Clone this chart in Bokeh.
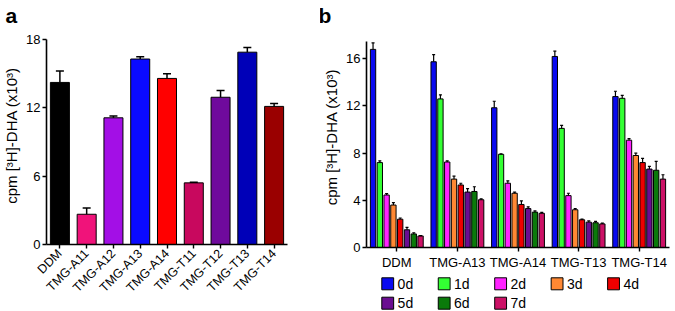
from bokeh.plotting import figure
from bokeh.models import FactorRange, Range1d, FixedTicker, ColumnDataSource
from bokeh.core.properties import value
from bokeh.transform import dodge
from bokeh.layouts import row, column
from bokeh.embed import file_html
from bokeh.resources import INLINE
import math

FONT = "Liberation Sans"
YLABEL = "cpm [³H]-DHA (x10³)"

# ---------------- panel a data ----------------
a_categories = ["DDM", "TMG-A11", "TMG-A12", "TMG-A13", "TMG-A14",
                "TMG-T11", "TMG-T12", "TMG-T13", "TMG-T14"]
a_values = [14.2, 2.65, 11.1, 16.25, 14.55, 5.4, 12.9, 16.85, 12.1]
a_errors = [1.0, 0.55, 0.15, 0.2, 0.4, 0.05, 0.6, 0.4, 0.25]
a_colors = ["#000000", "#f0137a", "#a30fe6", "#0a0aff", "#ff0000",
            "#c8085e", "#6f0a9c", "#0000b8", "#9a0000"]
a_yticks = [0, 6, 12, 18]

# ---------------- panel b data ----------------
b_groups = ["DDM", "TMG-A13", "TMG-A14", "TMG-T13", "TMG-T14"]
b_days = ["0d", "1d", "2d", "3d", "4d", "5d", "6d", "7d"]
b_0d = [16.8, 15.75, 11.85, 16.2, 12.8]
b_1d = [7.2, 12.6, 7.9, 10.1, 12.65]
b_2d = [4.45, 7.25, 5.45, 4.4, 9.1]
b_3d = [3.6, 5.8, 4.6, 3.2, 7.8]
b_4d = [2.4, 5.3, 3.65, 2.35, 7.2]
b_5d = [1.5, 4.7, 3.3, 2.15, 6.65]
b_6d = [1.15, 4.75, 3.0, 2.1, 6.55]
b_7d = [0.98, 4.05, 2.9, 2.0, 5.8]
b_0d_err = [0.55, 0.6, 0.55, 0.45, 0.45]
b_1d_err = [0.15, 0.35, 0.05, 0.25, 0.25]
b_2d_err = [0.12, 0.1, 0.2, 0.2, 0.14]
b_3d_err = [0.2, 0.25, 0.1, 0.1, 0.2]
b_4d_err = [0.1, 0.15, 0.3, 0.06, 0.35]
b_5d_err = [0.2, 0.3, 0.15, 0.1, 0.23]
b_6d_err = [0.1, 0.4, 0.1, 0.12, 0.75]
b_7d_err = [0.03, 0.08, 0.07, 0.06, 0.37]
b_colors = ["#0a0af0", "#33ff33", "#ff22ff", "#ff8833",
            "#ee0000", "#6a0d91", "#0a7a0a", "#cc1166"]
b_yticks = [0, 4, 8, 12, 16]

b_series = [b_0d, b_1d, b_2d, b_3d, b_4d, b_5d, b_6d, b_7d]
b_series_err = [b_0d_err, b_1d_err, b_2d_err, b_3d_err,
                b_4d_err, b_5d_err, b_6d_err, b_7d_err]


def style_axes(p, yticks, ytop):
    for ax in (p.xaxis[0], p.yaxis[0]):
        ax.axis_line_width = 1.6
        ax.axis_line_color = "black"
        ax.major_tick_line_width = 1.4
        ax.major_tick_line_color = "black"
        ax.major_tick_out = 4
        ax.major_tick_in = 0
        ax.minor_tick_line_color = None
        ax.major_label_text_font = FONT
        ax.major_label_text_color = "black"
        ax.axis_label_text_font = FONT
        ax.axis_label_text_font_style = "normal"
        ax.axis_label_text_color = "black"
    p.yaxis[0].ticker = FixedTicker(ticks=yticks)
    p.yaxis[0].bounds = (0, ytop)
    p.yaxis[0].major_label_text_font_size = "13px"
    p.yaxis[0].major_label_standoff = 2
    p.yaxis[0].axis_label = YLABEL
    p.yaxis[0].axis_label_text_font_size = "15px"
    p.yaxis[0].axis_label_standoff = 3
    p.xgrid.visible = False
    p.ygrid.visible = False
    p.outline_line_color = None
    p.background_fill_color = "white"
    p.border_fill_color = "white"
    p.title.text_font = FONT
    p.title.text_font_size = "21px"
    p.title.text_font_style = "bold"
    p.title.align = "left"
    p.title.standoff = 0
    p.title.text_color = "black"


# ---------------- panel a ----------------
src_a = ColumnDataSource(dict(
    cat=a_categories, v=a_values,
    hi=[v + e for v, e in zip(a_values, a_errors)], color=a_colors))

pa = figure(width=320, height=311,
            x_range=FactorRange(factors=a_categories, range_padding=0),
            y_range=Range1d(0, 19.1),
            output_backend="svg", toolbar_location=None,
            min_border_left=41, min_border_right=33,
            min_border_top=26, min_border_bottom=67, title="a")
pa.vbar(x="cat", top="v", width=0.71, fill_color="color",
        line_color="black", line_width=1, source=src_a)
pa.segment(x0="cat", y0="v", x1="cat", y1="hi", line_color="black",
           line_width=1.5, source=src_a)
pa.scatter(x="cat", y="hi", marker="dash", size=8, line_color="black",
           line_width=1.5, source=src_a)
style_axes(pa, a_yticks, 18)
pa.xaxis[0].major_label_orientation = math.pi / 4
pa.xaxis[0].major_label_text_font_size = "12.5px"
pa.xaxis[0].major_label_standoff = 3
pa.title.offset = -41

# ---------------- panel b ----------------
PB_W, PB_LEFT, PB_RIGHT = 355, 42, 6
pb = figure(width=PB_W, height=273,
            x_range=FactorRange(factors=b_groups, range_padding=0),
            y_range=Range1d(0, 18.74),
            output_backend="svg", toolbar_location=None,
            min_border_left=PB_LEFT, min_border_right=PB_RIGHT,
            min_border_top=26, min_border_bottom=26, title="b")
slot = 0.112
for i, (day, vals, errs, col) in enumerate(zip(b_days, b_series, b_series_err, b_colors)):
    off = (i - 3.5) * slot
    src = ColumnDataSource(dict(g=b_groups, v=vals,
                                hi=[v + e for v, e in zip(vals, errs)]))
    pb.vbar(x=dodge("g", off, range=pb.x_range), top="v", width=0.088,
            fill_color=col, line_color="black", line_width=1, source=src)
    pb.segment(x0=dodge("g", off, range=pb.x_range), y0="v",
               x1=dodge("g", off, range=pb.x_range), y1="hi",
               line_color="black", line_width=1.2, source=src)
    pb.scatter(x=dodge("g", off, range=pb.x_range), y="hi", marker="dash",
               size=3, line_color="black", line_width=1.2, source=src)

style_axes(pb, b_yticks, 17.44)
pb.xaxis[0].major_label_text_font_size = "13px"
pb.xaxis[0].major_label_standoff = 3
pb.title.offset = -48

# ---------------- legend of panel b (own strip below it, 1 unit = 1 px) ----------------
FRAME_W = PB_W - PB_LEFT - PB_RIGHT
LEG_H = 38
pl = figure(width=PB_W, height=LEG_H,
            x_range=Range1d(0, FRAME_W), y_range=Range1d(0, LEG_H),
            x_axis_location=None, y_axis_location=None,
            output_backend="svg", toolbar_location=None,
            min_border_left=PB_LEFT, min_border_right=PB_RIGHT,
            min_border_top=0, min_border_bottom=0)
pl.xgrid.visible = False
pl.ygrid.visible = False
pl.outline_line_color = None
pl.background_fill_color = "white"
pl.border_fill_color = "white"

n_cols = 5
col_x0, col_pitch = 21.5, 57.2   # swatch centre of first column, column pitch
row_y0, row_pitch = 27.7, 19.4   # centre of first row (from bottom), row pitch
leg_x = [col_x0 + (k % n_cols) * col_pitch for k in range(len(b_days))]
leg_y = [row_y0 - (k // n_cols) * row_pitch for k in range(len(b_days))]
src_l = ColumnDataSource(dict(x=leg_x, y=leg_y, tx=[x + 10 for x in leg_x],
                              label=b_days, color=b_colors))
pl.rect(x="x", y="y", width=12, height=12, fill_color="color",
        line_color="black", line_width=1, source=src_l)
pl.text(x="tx", y="y", text="label", text_baseline="middle", text_align="left",
        text_font=value(FONT), text_font_size="14px", text_color="black",
        source=src_l)

layout = row(pa, column(pb, pl))
open("out.html", "w").write(file_html(layout, INLINE))
